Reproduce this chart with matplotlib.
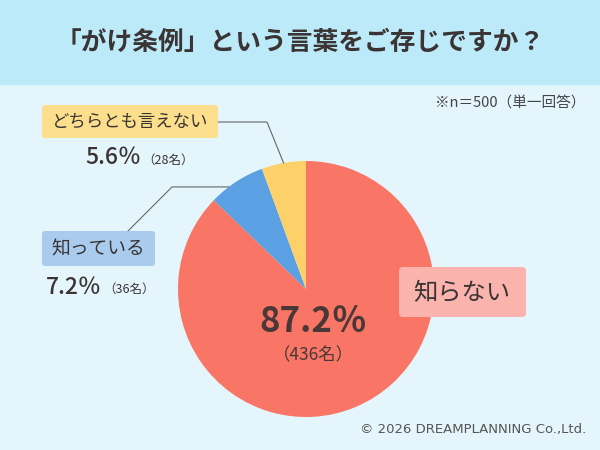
import numpy as np
import matplotlib
matplotlib.use("Agg")
import matplotlib.pyplot as plt
from matplotlib.patches import FancyBboxPatch, Rectangle

plt.rcParams['font.family'] = ['Noto Sans CJK JP', 'DejaVu Sans']

# data
labels = ["知らない", "知っている", "どちらとも言えない"]
percents = [87.2, 7.2, 5.6]
counts = [436, 36, 28]
colors = ["#F97565", "#5AA0E2", "#FDD06A"]
box_colors = ["#FBB3AE", "#A9CCEE", "#FBDF8C"]
title = "「がけ条例」という言葉をご存じですか？"
note = "※n＝500（単一回答）"
credit = "© 2026 DREAMPLANNING Co.,Ltd."

W, H = 600, 450
TXT = "#3A3434"

fig = plt.figure(figsize=(6, 4.5), dpi=100)


def pixel_axes():
    a = fig.add_axes([0, 0, 1, 1])
    a.set_xlim(0, W)
    a.set_ylim(H, 0)
    a.axis('off')
    a.patch.set_alpha(0)
    return a


# background
bg = pixel_axes()
bg.add_patch(Rectangle((0, 0), W, H, color="#E4F6FC", zorder=0))
bg.add_patch(Rectangle((0, 0), W, 84, color="#BDEAF8", zorder=0))

# pie
cx, cy, r = 306, 289, 128
pie_ax = fig.add_axes([(cx - r) / W, (H - cy - r) / H, 2 * r / W, 2 * r / H])
pie_ax.pie(percents, colors=colors, startangle=90, counterclock=False,
           wedgeprops=dict(linewidth=0))
pie_ax.set_xlim(-1, 1)
pie_ax.set_ylim(-1, 1)
pie_ax.axis('off')

# foreground texts, boxes, leaders
fg = pixel_axes()
fg.text(300, 42, title, ha='center', va='center', fontsize=18.5,
        color=TXT, fontweight='bold')
fg.text(585, 103, note, ha='right', va='center', fontsize=10.5, color="#444444")
fg.text(586, 430, credit, ha='right', va='center', fontsize=9.5, color="#555555",
        family=['DejaVu Sans'])

# mid angles of wedges (degrees, standard orientation)
fr = np.array(percents) / sum(percents)
ends = 90 - 360 * np.cumsum(fr)
starts = ends + 360 * fr
mids = (starts + ends) / 2


def edge_point(deg):
    a = np.deg2rad(deg)
    return cx + r * np.cos(a), cy - r * np.sin(a)


# big label inside the red slice
fg.text(313, 322, f"{percents[0]}％", ha='center', va='center', fontsize=25,
        color="#4A3838", fontweight='bold')
fg.text(313, 355, f"（{counts[0]}名）", ha='center', va='center', fontsize=12.5,
        color="#4A3838")

# 知らない box
fg.add_patch(FancyBboxPatch((399, 267), 127, 50, boxstyle="round,pad=0,rounding_size=4",
                            fc=box_colors[0], ec='none', zorder=3))
fg.text(462, 293, labels[0], ha='center', va='center', fontsize=17.5, color=TXT, zorder=4)

# 知っている box
fg.add_patch(FancyBboxPatch((42, 231), 113, 35, boxstyle="round,pad=0,rounding_size=3",
                            fc=box_colors[1], ec='none', zorder=3))
fg.text(98, 249, labels[1], ha='center', va='center', fontsize=13.5, color=TXT, zorder=4)
fg.text(102, 287, f"{percents[1]}％", ha='right', va='center', fontsize=16.5, color=TXT,
        fontweight='medium')
fg.text(103, 289, f"（{counts[1]}名）", ha='left', va='center', fontsize=9, color=TXT)

# どちらとも言えない box
fg.add_patch(FancyBboxPatch((42, 105), 176, 33, boxstyle="round,pad=0,rounding_size=3",
                            fc=box_colors[2], ec='none', zorder=3))
fg.text(130, 122, labels[2], ha='center', va='center', fontsize=12.5, color=TXT, zorder=4)
fg.text(141, 158, f"{percents[2]}％", ha='right', va='center', fontsize=16.5, color=TXT,
        fontweight='medium')
fg.text(142, 160, f"（{counts[2]}名）", ha='left', va='center', fontsize=9, color=TXT)

# leader lines
ex, ey = edge_point(mids[2])
fg.plot([218, 267, ex], [122, 122, ey], color="#666666", lw=0.8, zorder=2)
ex, ey = edge_point(mids[1] + 4)
fg.plot([128, 172, ex], [231, ey, ey], color="#666666", lw=0.8, zorder=2)

fig.savefig("out.png", dpi=100)
